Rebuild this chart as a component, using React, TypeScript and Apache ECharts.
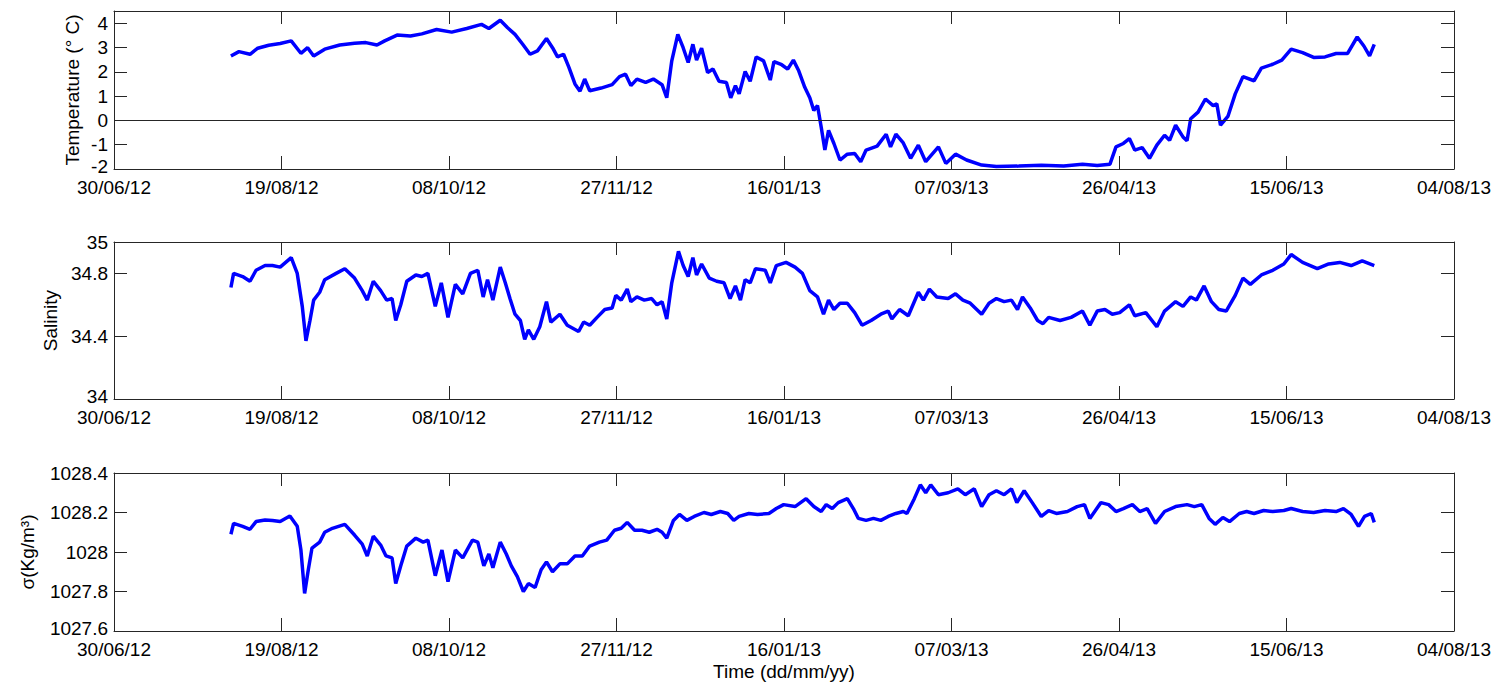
import React, { useEffect, useRef } from "react";
import * as echarts from "echarts";

// x values: days since 30/06/2012
const START_UTC = Date.UTC(2012, 5, 30);

const tempDays = [34.9,37.3,40.6,42.9,46.2,49.6,52.9,55.8,57.8,59.6,62.9,67.4,71.8,75.2,78.5,80.8,84.5,88.5,91.9,96.3,100.8,105.3,109.7,111.9,115.3,117.5,119.7,122.0,124.2,126.4,129.1,130.9,132.4,134.2,135.8,137.6,139.1,140.5,142.0,145.4,148.7,150.9,152.7,154.3,156.1,158.7,161.0,163.6,165.0,166.5,168.3,169.9,171.4,172.8,173.9,175.4,177.2,178.8,180.6,182.8,184.1,185.5,186.6,188.4,189.9,191.7,193.9,195.9,197.0,199.3,201.1,202.8,204.4,206.2,207.7,208.9,210.0,211.1,212.2,213.3,214.9,216.7,218.9,221.1,222.9,224.5,227.8,230.5,231.8,233.4,235.6,237.8,240.1,242.3,246.1,248.3,251.2,254.5,259.0,263.4,270.1,276.8,283.5,289.1,293.5,297.3,299.1,301.3,303.1,304.7,306.9,309.1,311.3,313.6,315.1,316.9,319.1,320.3,321.4,323.6,325.8,328.1,329.2,330.3,332.5,334.7,337.0,340.3,342.5,345.9,348.6,351.4,354.8,358.1,361.5,364.8,368.2,371.1,373.1,374.8,376.2];
const tempVals = [2.65,2.83,2.72,2.97,3.09,3.16,3.27,2.76,2.99,2.65,2.93,3.10,3.17,3.20,3.10,3.27,3.51,3.47,3.56,3.74,3.63,3.78,3.95,3.78,4.12,3.81,3.54,3.13,2.72,2.86,3.37,2.99,2.61,2.72,2.18,1.50,1.20,1.70,1.22,1.33,1.47,1.80,1.90,1.43,1.70,1.56,1.70,1.47,0.93,2.45,3.54,2.99,2.38,3.13,2.48,2.97,1.97,2.11,1.61,1.56,0.93,1.43,1.09,2.01,1.61,2.61,2.45,1.66,2.42,2.29,2.11,2.48,2.04,1.36,0.93,0.41,0.61,-0.27,-1.22,-0.41,-0.95,-1.63,-1.39,-1.36,-1.70,-1.22,-1.06,-0.57,-1.09,-0.57,-0.93,-1.56,-1.02,-1.70,-1.09,-1.77,-1.39,-1.63,-1.84,-1.90,-1.88,-1.85,-1.88,-1.80,-1.86,-1.80,-1.09,-0.95,-0.75,-1.22,-1.12,-1.56,-1.02,-0.61,-0.82,-0.20,-0.68,-0.84,0.07,0.34,0.88,0.61,0.68,-0.20,0.16,1.09,1.80,1.63,2.15,2.31,2.48,2.93,2.79,2.59,2.61,2.75,2.75,3.43,3.06,2.65,3.13];

const salDays = [34.9,35.7,38.4,40.6,42.4,45.1,47.3,49.6,52.9,54.7,56.2,57.3,58.5,59.6,61.4,62.9,66.3,68.9,71.8,74.1,75.6,77.4,79.6,81.4,83.0,84.1,85.6,87.4,90.1,91.9,93.7,95.9,97.7,99.7,101.9,104.1,106.4,108.6,110.2,111.5,113.1,115.3,116.8,118.2,119.7,121.3,122.6,123.7,125.3,127.1,129.1,130.4,133.1,135.3,138.7,140.2,142.0,144.2,146.5,148.7,149.8,151.4,153.2,154.3,156.1,158.3,160.5,162.1,163.6,165.0,166.5,168.5,169.9,171.4,172.8,173.9,175.4,177.7,179.9,182.1,183.9,185.5,187.0,188.4,189.9,191.5,194.4,195.9,197.7,200.6,203.3,205.5,207.7,210.0,211.8,213.3,214.9,216.7,218.9,221.1,223.3,226.0,228.9,231.1,232.2,234.5,237.1,240.1,241.6,243.4,245.6,249.0,251.2,253.4,255.6,259.0,261.2,263.4,265.7,267.9,269.7,271.2,273.5,275.7,277.3,279.0,282.4,285.7,289.1,291.3,293.5,295.8,298.0,300.2,303.1,304.7,308.0,311.3,313.6,316.9,319.1,321.4,323.1,325.4,327.6,329.8,332.0,334.7,337.0,339.2,342.5,345.9,349.2,351.4,354.8,359.2,362.6,365.9,369.3,372.6,376.2];
const salVals = [34.71,34.80,34.78,34.75,34.82,34.85,34.85,34.84,34.90,34.80,34.59,34.37,34.50,34.63,34.68,34.76,34.80,34.83,34.77,34.69,34.63,34.75,34.69,34.63,34.64,34.50,34.60,34.75,34.79,34.78,34.80,34.59,34.74,34.52,34.73,34.67,34.80,34.82,34.65,34.76,34.63,34.84,34.74,34.64,34.54,34.50,34.38,34.44,34.38,34.46,34.62,34.49,34.54,34.47,34.43,34.49,34.47,34.52,34.57,34.58,34.66,34.63,34.70,34.62,34.65,34.63,34.64,34.60,34.62,34.51,34.74,34.94,34.85,34.78,34.90,34.79,34.86,34.77,34.75,34.74,34.64,34.72,34.63,34.76,34.74,34.83,34.82,34.74,34.85,34.87,34.84,34.80,34.69,34.65,34.54,34.63,34.57,34.61,34.61,34.55,34.47,34.50,34.54,34.56,34.51,34.57,34.53,34.68,34.63,34.70,34.65,34.64,34.67,34.63,34.61,34.54,34.61,34.64,34.62,34.63,34.57,34.65,34.58,34.50,34.48,34.52,34.50,34.52,34.56,34.47,34.56,34.57,34.54,34.55,34.60,34.53,34.55,34.46,34.56,34.62,34.59,34.65,34.63,34.72,34.62,34.57,34.56,34.66,34.77,34.73,34.79,34.82,34.86,34.92,34.87,34.83,34.86,34.87,34.85,34.88,34.85];

const denDays = [34.9,35.7,38.4,40.6,42.4,45.1,47.3,49.6,52.5,54.7,55.8,56.9,58.0,59.1,61.4,62.9,65.2,68.9,71.8,74.1,75.6,77.4,79.6,81.2,83.0,84.1,85.6,87.4,90.1,92.3,93.7,95.9,97.9,99.7,101.9,104.1,107.0,108.6,110.4,111.9,113.1,115.3,117.1,118.6,120.4,122.2,123.7,125.7,127.5,129.1,130.9,133.1,135.3,137.6,139.8,142.0,144.9,147.1,149.4,151.4,153.2,155.4,157.6,159.8,162.1,163.6,165.0,167.0,168.8,171.0,173.2,176.1,178.3,181.0,183.2,185.0,186.6,189.5,192.1,195.5,197.7,199.9,203.3,206.6,208.9,211.1,212.6,214.4,216.2,218.9,220.7,222.2,224.5,226.7,228.9,231.1,233.4,235.6,236.7,238.9,240.7,242.3,243.8,246.1,249.0,251.9,254.1,256.8,259.0,261.2,263.4,265.7,267.9,269.5,271.7,274.1,276.8,279.0,281.3,284.6,287.5,289.7,291.3,294.6,296.9,299.1,301.3,304.0,306.2,308.4,310.9,313.6,316.9,320.3,322.5,324.7,326.9,328.7,331.0,333.0,335.9,338.1,340.3,343.2,345.9,349.2,351.4,354.8,358.1,361.5,364.8,367.0,369.3,371.5,373.3,375.3,376.2];
const denVals = [1028.09,1028.145,1028.13,1028.115,1028.154,1028.162,1028.16,1028.154,1028.182,1028.13,1028.01,1027.79,1027.91,1028.02,1028.05,1028.10,1028.12,1028.14,1028.086,1028.04,1027.98,1028.08,1028.035,1027.98,1027.97,1027.84,1027.93,1028.03,1028.07,1028.05,1028.06,1027.88,1028.01,1027.85,1028.01,1027.97,1028.06,1028.05,1027.93,1027.99,1027.92,1028.05,1027.99,1027.93,1027.875,1027.80,1027.84,1027.82,1027.91,1027.95,1027.90,1027.94,1027.94,1027.98,1027.98,1028.03,1028.05,1028.06,1028.11,1028.12,1028.15,1028.11,1028.11,1028.10,1028.115,1028.10,1028.07,1028.16,1028.19,1028.16,1028.18,1028.20,1028.19,1028.205,1028.195,1028.16,1028.18,1028.195,1028.19,1028.195,1028.22,1028.24,1028.23,1028.27,1028.23,1028.205,1028.24,1028.22,1028.25,1028.27,1028.22,1028.17,1028.16,1028.17,1028.16,1028.18,1028.195,1028.205,1028.195,1028.27,1028.34,1028.30,1028.34,1028.29,1028.30,1028.32,1028.29,1028.32,1028.23,1028.29,1028.31,1028.29,1028.32,1028.25,1028.31,1028.25,1028.18,1028.21,1028.195,1028.205,1028.23,1028.24,1028.17,1028.25,1028.24,1028.205,1028.22,1028.24,1028.205,1028.22,1028.145,1028.205,1028.23,1028.24,1028.23,1028.24,1028.17,1028.14,1028.175,1028.154,1028.195,1028.205,1028.195,1028.21,1028.205,1028.21,1028.22,1028.205,1028.20,1028.21,1028.205,1028.22,1028.19,1028.13,1028.18,1028.195,1028.15];

const xTickStep = 50; // days
const xMax = 400;

const panels = [
  { name: "Temperature (° C)", min: -2, max: 4.5, interval: 1, nameGap: 32, days: tempDays, vals: tempVals, zeroLine: true },
  { name: "Salinity", min: 34, max: 35, interval: 0.4, nameGap: 54, days: salDays, vals: salVals, zeroLine: false },
  { name: "σ(Kg/m³)", min: 1027.6, max: 1028.4, interval: 0.2, nameGap: 77, days: denDays, vals: denVals, zeroLine: false },
];

const FONT = "'Liberation Sans', Arial, Helvetica, sans-serif";
const AXIS_COLOR = "#262626";
const FS = 19;

function fmtDay(d: number): string {
  const t = new Date(START_UTC + Math.round(d) * 86400000);
  const dd = String(t.getUTCDate()).padStart(2, "0");
  const mm = String(t.getUTCMonth() + 1).padStart(2, "0");
  const yy = String(t.getUTCFullYear() % 100).padStart(2, "0");
  return `${dd}/${mm}/${yy}`;
}

function fmtY(v: number, i: number): string {
  if (i === 0 && Math.abs(v - Math.round(v)) > 1e-6) return "";
  const s = String(parseFloat(v.toFixed(2)));
  if (Math.abs(v - panels[i].min) < 1e-6) return `{lo|${s}}`;
  return s;
}

export default function App() {
  const ref = useRef<HTMLDivElement>(null);
  useEffect(() => {
    if (!ref.current) return;
    const chart = echarts.init(ref.current, undefined, { renderer: "svg" });
    const gridTops = [11, 242, 473];
    const gridHeights = [158, 157, 158];
    const grid = gridTops.map((t, i) => ({ left: 114, right: 52, top: t, height: gridHeights[i] }));
    const xAxis: any[] = [];
    const yAxis: any[] = [];
    const series: any[] = [];
    const lineCommon = { show: true, onZero: false, lineStyle: { color: AXIS_COLOR, width: 1 } };
    const tickCommon = { show: true, inside: true, length: 13, lineStyle: { color: AXIS_COLOR, width: 1 } };
    panels.forEach((p, i) => {
      xAxis.push({
        type: "value", gridIndex: i, position: "bottom", min: 0, max: xMax, interval: xTickStep,
        axisLine: lineCommon, axisTick: tickCommon, splitLine: { show: false },
        axisLabel: { show: true, margin: 10, lineHeight: 16, color: "#000", fontSize: FS, fontFamily: FONT, formatter: (v: number) => fmtDay(v), showMinLabel: true, showMaxLabel: true, hideOverlap: false },
        name: i === 2 ? "Time (dd/mm/yy)" : "", nameLocation: "middle", nameGap: 31,
        nameTextStyle: { color: "#000", fontSize: FS, fontFamily: FONT },
      });
      xAxis.push({
        type: "value", gridIndex: i, position: "top", min: 0, max: xMax, interval: xTickStep,
        axisLine: lineCommon, axisTick: tickCommon, splitLine: { show: false }, axisLabel: { show: false },
      });
      yAxis.push({
        type: "value", gridIndex: i, position: "left", min: p.min, max: p.max, interval: p.interval,
        axisLine: lineCommon, axisTick: tickCommon, splitLine: { show: false },
        axisLabel: {
          show: true, margin: 6, lineHeight: 16, color: "#000", fontSize: FS, fontFamily: FONT,
          formatter: (v: number) => fmtY(v, i), showMinLabel: true, showMaxLabel: true,
          rich: { lo: { fontSize: FS, fontFamily: FONT, color: "#000", lineHeight: 16, padding: [0, 0, 5, 0] } },
        },
        name: p.name, nameLocation: "middle", nameRotate: 90, nameGap: p.nameGap, nameMoveOverlap: false,
        nameTextStyle: { color: "#000", fontSize: FS, fontFamily: FONT },
      });
      yAxis.push({
        type: "value", gridIndex: i, position: "right", min: p.min, max: p.max, interval: p.interval,
        axisLine: lineCommon, axisTick: tickCommon, splitLine: { show: false }, axisLabel: { show: false },
      });
      const s: any = {
        type: "line", xAxisIndex: i * 2, yAxisIndex: i * 2, showSymbol: false, symbol: "none",
        data: p.days.map((d, k) => [d, p.vals[k]]),
        lineStyle: { color: "#0000ff", width: 3.5 }, itemStyle: { color: "#0000ff" }, z: 3,
      };
      if (p.zeroLine) {
        s.markLine = {
          silent: true, symbol: ["none", "none"], label: { show: false }, animation: false,
          lineStyle: { color: AXIS_COLOR, width: 1, type: "solid" }, emphasis: { disabled: true },
          data: [{ yAxis: 0 }],
        };
      }
      series.push(s);
    });
    chart.setOption({ animation: false, backgroundColor: "#fff", grid, xAxis, yAxis, series });
    return () => chart.dispose();
  }, []);
  return <div ref={ref} style={{ position: "absolute", left: 0, top: 0, width: 1506, height: 682 }} />;
}
